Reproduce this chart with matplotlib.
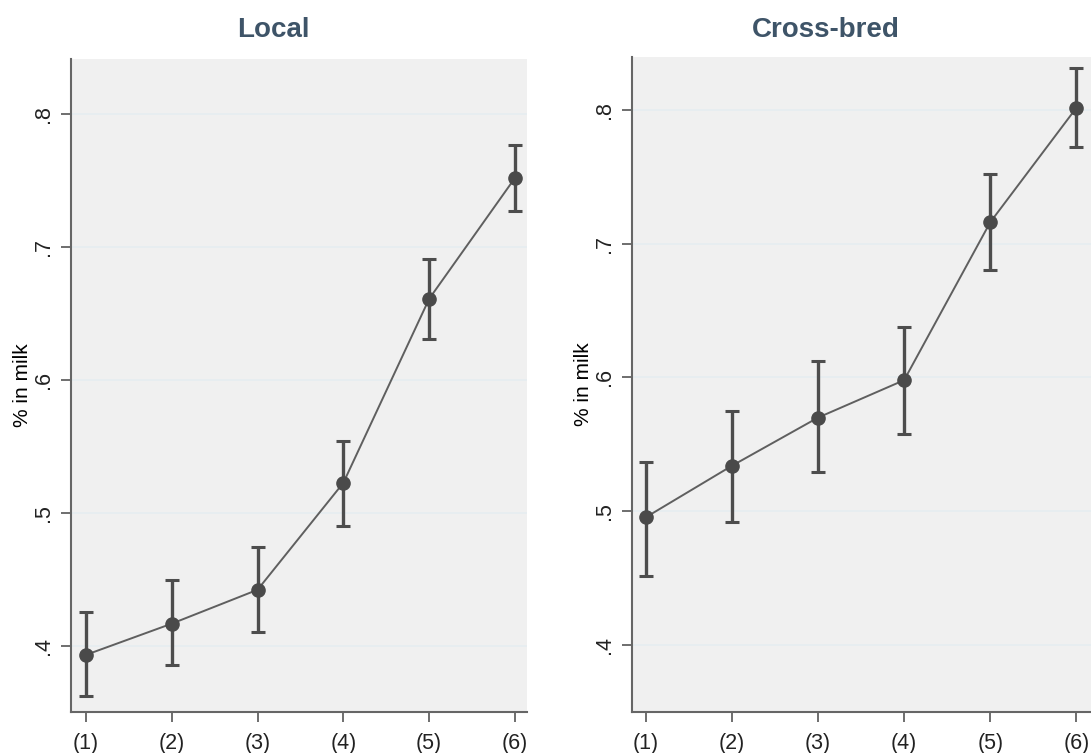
import numpy as np
import matplotlib
matplotlib.use('Agg')
from matplotlib import pyplot as plt

plt.rcParams['font.family'] = ['Liberation Sans', 'DejaVu Sans']

groups = ['(1)', '(2)', '(3)', '(4)', '(5)', '(6)']

# Local breed: point estimate with lower / upper CI
local_mean = [0.393, 0.4165, 0.442, 0.5225, 0.661, 0.752]
local_lo = [0.362, 0.385, 0.4105, 0.490, 0.631, 0.727]
local_hi = [0.4255, 0.449, 0.474, 0.554, 0.691, 0.777]

# Cross-bred
cross_mean = [0.4955, 0.534, 0.570, 0.598, 0.716, 0.8015]
cross_lo = [0.452, 0.492, 0.529, 0.558, 0.680, 0.772]
cross_hi = [0.537, 0.575, 0.612, 0.638, 0.752, 0.831]

yticks = [0.4, 0.5, 0.6, 0.7, 0.8]
ytick_labels = ['.4', '.5', '.6', '.7', '.8']

W, H = 1091, 753
fig = plt.figure(figsize=(W / 100, H / 100), dpi=100)
fig.patch.set_facecolor('white')

ax1 = fig.add_axes([71 / W, 41 / H, (527 - 71) / W, (712 - 59) / H])
ax2 = fig.add_axes([632 / W, 41 / H, (1091 - 632) / W, (712 - 57) / H])

# title centre (figure px) for each panel
panels = [
    (ax1, 'Local', 273, local_mean, local_lo, local_hi, (0.35, 0.8415), (0.826, 6.14)),
    (ax2, 'Cross-bred', 826, cross_mean, cross_lo, cross_hi, (0.35, 0.8395), (0.84, 6.17)),
]

x = np.arange(1, len(groups) + 1)
for ax, title, tx, mean, lo, hi, ylim, xlim in panels:
    mean = np.array(mean)
    err = [mean - np.array(lo), np.array(hi) - mean]
    ax.set_facecolor('#f0f0f0')
    for yt in yticks:
        ax.axhline(yt, color='#e6edf1', lw=1.2, zorder=0)
    ax.plot(x, mean, color='#5f5f5f', lw=1.4, zorder=2)
    ax.errorbar(x, mean, yerr=err, fmt='none', ecolor='#4d4d4d',
                elinewidth=2.4, capsize=4.8, capthick=2.2, zorder=3)
    ax.plot(x, mean, 'o', color='#4a4a4a', ms=9.5, zorder=4)
    ax.set_xlim(*xlim)
    ax.set_ylim(*ylim)
    ax.set_xticks(x)
    ax.set_xticklabels(groups, fontsize=15.5)
    ax.set_yticks(yticks)
    ax.set_yticklabels(ytick_labels, fontsize=15.5, rotation=90, va='center')
    ax.set_ylabel('% in milk', fontsize=15, labelpad=1)
    ax.tick_params(axis='both', colors='#555555', length=7, width=1.2,
                   labelcolor='#222222')
    ax.tick_params(axis='x', pad=8)
    ax.tick_params(axis='y', pad=5)
    for side in ['top', 'right']:
        ax.spines[side].set_visible(False)
    for side in ['left', 'bottom']:
        ax.spines[side].set_color('#666666')
        ax.spines[side].set_linewidth(1.5)
    fig.text(tx / W, 1 - 30 / H, title, fontsize=20, fontweight='bold',
             color='#3e5468', ha='center', va='center')

fig.savefig('out.png', dpi=100, facecolor='white')
